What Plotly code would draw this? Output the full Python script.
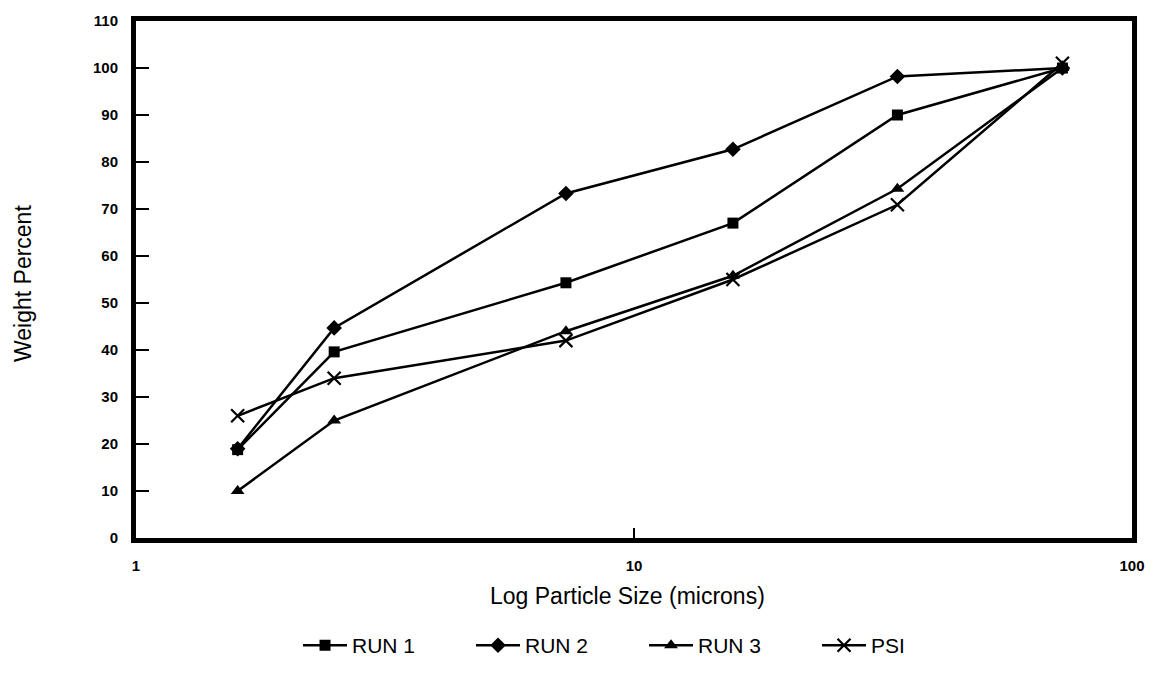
import plotly.graph_objects as go

# Data
particle_size = [1.6, 2.5, 7.3, 15.8, 33.8, 72.5]
run1 = [18.8, 39.6, 54.3, 67.0, 90.0, 100.0]
run2 = [19.0, 44.7, 73.3, 82.7, 98.2, 100.0]
run3 = [10.0, 25.0, 44.0, 55.8, 74.3, 100.0]
psi = [26.0, 34.0, 42.0, 55.0, 70.9, 101.0]

series_names = ["RUN 1", "RUN 2", "RUN 3", "PSI"]
y_ticks = [0, 10, 20, 30, 40, 50, 60, 70, 80, 90, 100, 110]
x_ticks = [1, 10, 100]
x_ticktext = ["1", "10", "100"]

FONT = "Liberation Sans, Arial, sans-serif"
W, H = 1157, 678
L, R, T, B = 136, 19, 17, 123
pw, ph = W - L - R, H - T - B

def px_x(px):
    return (px - L) / pw

def px_y(py):
    return (H - B - py) / ph

markers = [
    dict(symbol="square", size=11, color="black"),
    dict(symbol="diamond", size=12, color="black"),
    dict(symbol="triangle-up", size=12, color="black"),
    dict(symbol="x-thin-open", size=13, color="black", line=dict(width=2.2, color="black")),
]

fig = go.Figure()
for name, ys, mk in zip(series_names, [run1, run2, run3, psi], markers):
    fig.add_trace(go.Scatter(
        x=particle_size, y=ys, name=name, mode="lines+markers",
        line=dict(color="black", width=2.5),
        marker=mk,
    ))

fig.update_layout(
    width=W, height=H,
    margin=dict(l=L, r=R, t=T, b=B, pad=0),
    paper_bgcolor="white", plot_bgcolor="white",
    font=dict(family=FONT, color="black"),
    showlegend=True,
    legend=dict(
        orientation="h", x=px_x(299), xanchor="left", y=px_y(667), yanchor="middle",
        font=dict(size=21, family=FONT), entrywidth=114, entrywidthmode="pixels",
        itemwidth=44, bgcolor="rgba(0,0,0,0)",
    ),
    xaxis=dict(
        type="log", range=[0, 2], tickvals=x_ticks, ticktext=x_ticktext,
        showgrid=False, zeroline=False, showline=True, linewidth=5, linecolor="black",
        mirror=True, ticks="inside", ticklen=10, tickwidth=2, tickcolor="black",
        tickfont=dict(size=15, family=FONT, weight="bold"), ticklabelstandoff=10,
    ),
    yaxis=dict(
        range=[0, 110], tickvals=y_ticks,
        showgrid=False, zeroline=False, showline=True, linewidth=5, linecolor="black",
        mirror=True, ticks="inside", ticklen=13, tickwidth=2, tickcolor="black",
        tickfont=dict(size=15, family=FONT, weight="bold"), ticklabelstandoff=10,
    ),
    annotations=[
        dict(text="Log Particle Size (microns)", xref="paper", yref="paper",
             x=px_x(630), y=px_y(615), xanchor="center", yanchor="middle",
             showarrow=False, font=dict(size=23, family=FONT)),
        dict(text="Weight Percent", xref="paper", yref="paper",
             x=px_x(23), y=px_y(290), xanchor="center", yanchor="middle",
             textangle=-90, showarrow=False, font=dict(size=23, family=FONT)),
    ],
)

fig.write_html("out.html")
